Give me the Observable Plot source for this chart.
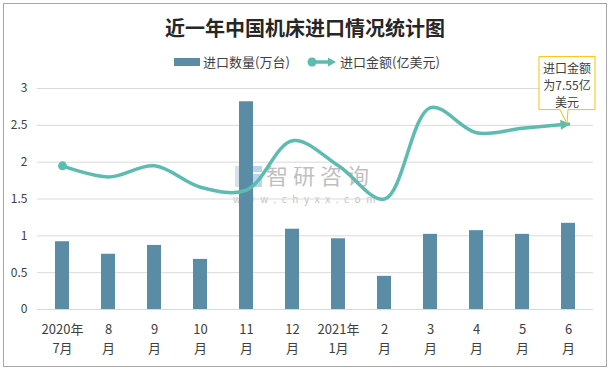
<!DOCTYPE html>
<html>
<head>
<meta charset="utf-8">
<script src="https://cdn.jsdelivr.net/npm/d3@7"></script>
<script src="https://cdn.jsdelivr.net/npm/@observablehq/plot@0.6"></script>
<style>
  body { margin: 0; background: #fff; }
  #wrap { position: relative; width: 610px; height: 369px; overflow: hidden;
          font-family: "Noto Sans CJK SC", "Microsoft YaHei", sans-serif; color: #404040; }
  #frame { position: absolute; left: 3px; top: 3px; width: 604px; height: 364px;
           border: 1px solid #a6a6a6; box-sizing: border-box; z-index: 5; pointer-events: none; }
  #wm { position: absolute; left: 0; top: 0; z-index: 1; }
  #chart { position: absolute; left: 0; top: 0; z-index: 2; }
  #title { position: absolute; left: 0; top: 14px; width: 610px; text-align: center;
           font-size: 20px; font-weight: 700; line-height: 28px; color: #262626; z-index: 3; }
  .leg { position: absolute; font-size: 13px; line-height: 18px; top: 53px; z-index: 3; color: #404040; white-space: nowrap; }
  #ann { position: absolute; z-index: 4; }
  #annText { position: absolute; z-index: 4; text-align: center; font-size: 12px; line-height: 17px; color: #404040; }
</style>
</head>
<body>
<div id="wrap">
  <div id="title"></div>
  <div id="frame"></div>
</div>
<script>
// ---- data ----
const months = ["2020年7月","8月","9月","10月","11月","12月","2021年1月","2月","3月","4月","5月","6月"];
const tickLabels = ["2020年\n7月","8\n月","9\n月","10\n月","11\n月","12\n月","2021年\n1月","2\n月","3\n月","4\n月","5\n月","6\n月"];
const quantity = [0.92, 0.75, 0.87, 0.68, 2.82, 1.09, 0.96, 0.45, 1.02, 1.07, 1.02, 1.17]; // 进口数量(万台)
const amount   = [5.85, 5.40, 5.85, 4.98, 4.86, 6.87, 5.85, 4.50, 8.22, 7.20, 7.38, 7.55]; // 进口金额(亿美元)
const yTicks = [0, 0.5, 1, 1.5, 2, 2.5, 3];
const amountAxisMax = 9;   // hidden secondary axis 0–9 亿美元
const titleText = "近一年中国机床进口情况统计图";
const seriesNames = ["进口数量(万台)", "进口金额(亿美元)"];

const barColor = "#5A8DA5";
const lineColor = "#5DBCB0";
const fontFamily = "'Noto Sans CJK SC', 'Microsoft YaHei', sans-serif";

const data = months.map((m, i) => ({month: m, quantity: quantity[i], amount: amount[i]}));
const amountY = d => d.amount / amountAxisMax * 3;

const chart = Plot.plot({
  width: 610, height: 369,
  marginLeft: 37, marginRight: 17, marginTop: 88, marginBottom: 60,
  style: {background: "transparent", fontFamily, fontSize: "12px", color: "#404040", overflow: "visible"},
  x: {domain: months, paddingInner: 0.7, paddingOuter: 0.35, label: null},
  y: {domain: [0, 3], label: null},
  marks: [
    Plot.gridY(yTicks, {stroke: "#d9d9d9", strokeOpacity: 1, strokeWidth: 1}),
    Plot.axisY(yTicks, {tickSize: 0, tickPadding: 10, fontSize: 12, label: null, tickFormat: d => String(d)}),
    Plot.axisX({tickSize: 0, tickPadding: 11, fontSize: 13, lineHeight: 1.45, label: null,
                tickFormat: d => tickLabels[months.indexOf(d)]}),
    Plot.barY(data, {x: "month", y: "quantity", fill: barColor}),
    Plot.line(data, {x: "month", y: amountY, stroke: lineColor, strokeWidth: 3.5, curve: "catmull-rom"}),
    Plot.dot(data.slice(0, 1), {x: "month", y: amountY, r: 4.5, fill: lineColor, stroke: "none"})
  ]
});
chart.id = "chart";
const wrap = document.getElementById("wrap");
wrap.appendChild(chart);
document.getElementById("title").textContent = titleText;

// arrow marker on line end
const svg = d3.select(chart);
svg.append("defs").append("marker")
  .attr("id", "arrowEnd").attr("viewBox", "0 0 10 10").attr("refX", 8).attr("refY", 5)
  .attr("markerWidth", 11).attr("markerHeight", 10).attr("markerUnits", "userSpaceOnUse")
  .attr("orient", "auto")
  .append("path").attr("d", "M0,0L10,5L0,10z").attr("fill", lineColor);
svg.select('g[aria-label="line"] path').attr("marker-end", "url(#arrowEnd)");

// legend
const leg1 = document.createElement("div");
leg1.className = "leg"; leg1.style.left = "174px";
leg1.innerHTML = `<span style="display:inline-block;width:26px;height:8px;background:${barColor};vertical-align:middle;margin-right:3px;position:relative;top:-1px"></span>${seriesNames[0]}`;
wrap.appendChild(leg1);
const leg2 = document.createElement("div");
leg2.className = "leg"; leg2.style.left = "306px";
leg2.innerHTML = `<svg width="32" height="12" style="vertical-align:middle;margin-right:2px;position:relative;top:-1px"><line x1="6" y1="6" x2="24" y2="6" stroke="${lineColor}" stroke-width="3.5"/><circle cx="6" cy="6" r="4.5" fill="${lineColor}"/><path d="M22,1.5L30,6L22,10.5z" fill="${lineColor}"/></svg>${seriesNames[1]}`;
wrap.appendChild(leg2);

// watermark
const wm = document.createElement("div");
wm.id = "wm";
wm.innerHTML = `<svg width="610" height="369">
  <g opacity="0.55">
    <rect x="235" y="166" width="16" height="21" fill="#b9c8d8"/>
    <rect x="239" y="170" width="9" height="13" fill="#fff"/>
    <rect x="253" y="166" width="9" height="6" fill="#7fb6e0"/>
    <rect x="253" y="174" width="9" height="13" fill="#7fb6e0"/>
    <text x="266" y="184" font-size="22" fill="#8c8c8c" font-family="${fontFamily}" letter-spacing="5">智研咨询</text>
    <text x="233" y="203" font-size="10" fill="#8c8c8c" font-family="${fontFamily}" letter-spacing="5.6">www.chyxx.com</text>
  </g></svg>`;
wrap.appendChild(wm);

// annotation callout at last point, positioned from scales
const xs = chart.scale("x"), ys = chart.scale("y");
const last = data[data.length - 1];
const px = xs.apply(last.month) + xs.bandwidth / 2;
const py = ys.apply(amountY(last));
const bx = px - 29, by = py - 67, bw = 56, bh = 53;
const ann = document.createElement("div");
ann.id = "ann";
ann.innerHTML = `<svg width="610" height="369" style="position:absolute;left:0;top:0;overflow:visible">
  <path d="M${bx},${by}H${bx + bw}V${by + bh}H${px}L${px - 1},${py}L${px - 8},${by + bh}H${bx}Z"
        fill="#fff" stroke="#FFC000" stroke-width="1"/></svg>`;
wrap.appendChild(ann);
const at = document.createElement("div");
at.id = "annText";
at.style.left = bx + "px"; at.style.top = (by + 2) + "px"; at.style.width = bw + "px";
at.innerHTML = `进口金额<br>为${last.amount}亿<br>美元`;
wrap.appendChild(at);
</script>
</body>
</html>
